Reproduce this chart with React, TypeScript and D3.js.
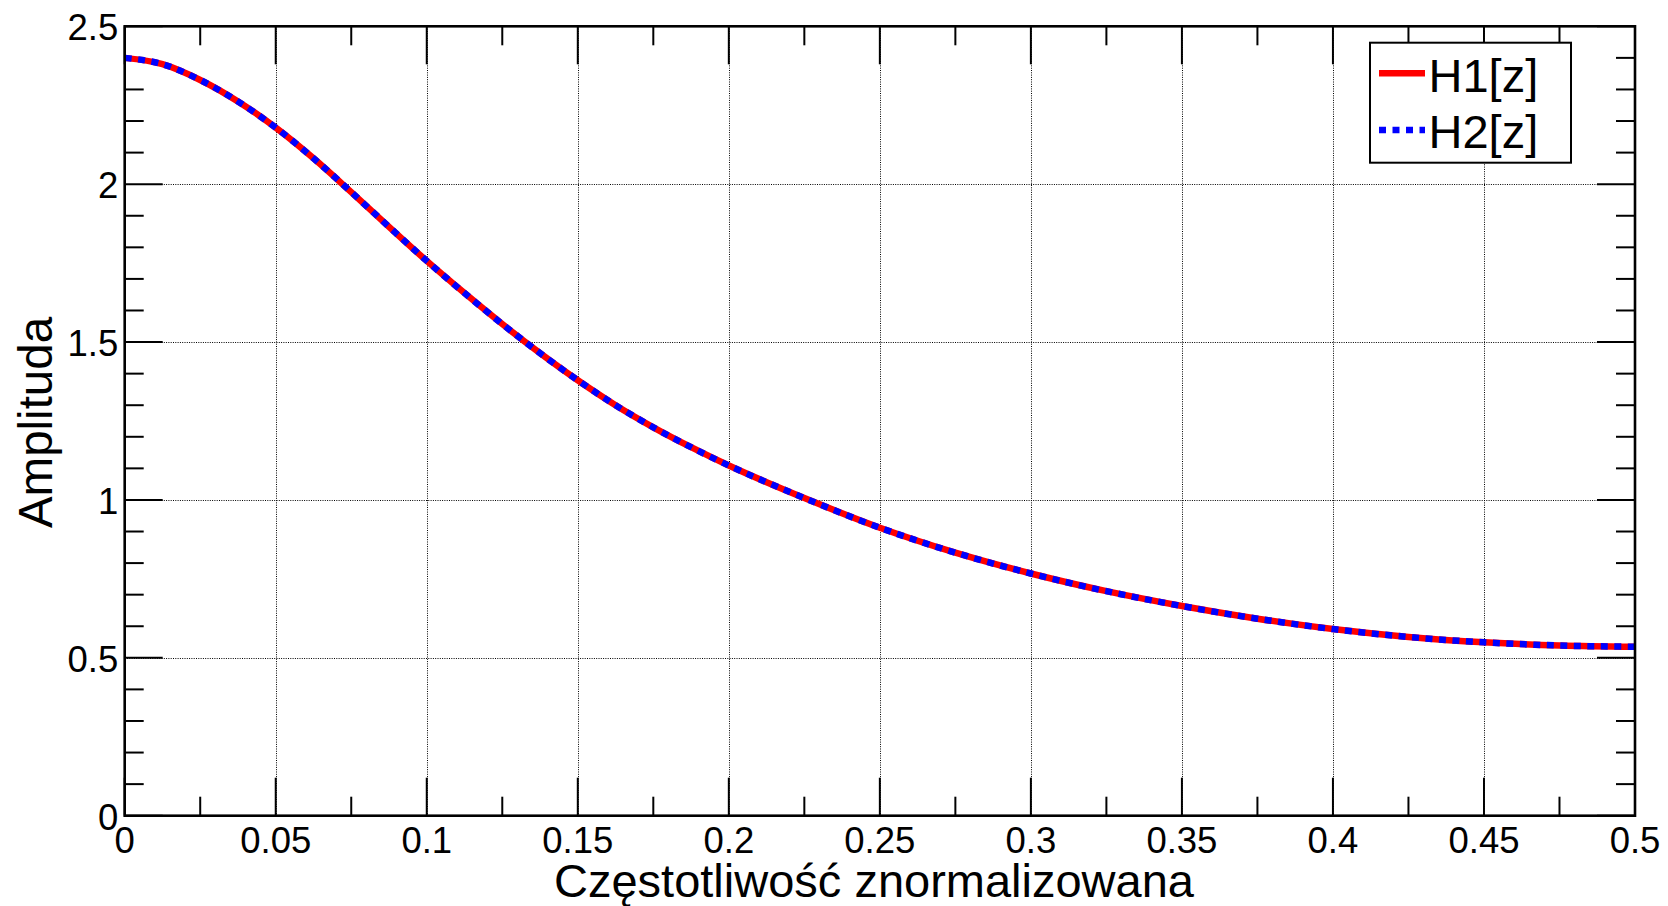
import React from "react";
import * as d3 from "d3";

// Normalised frequency samples and the magnitude responses of both filters
const freq = [
  0, 0.0125, 0.025, 0.0375, 0.05, 0.0625, 0.075, 0.0875, 0.1, 0.1125, 0.125,
  0.1375, 0.15, 0.1625, 0.175, 0.1875, 0.2, 0.2125, 0.225, 0.25, 0.275, 0.3,
  0.325, 0.35, 0.375, 0.4, 0.425, 0.45, 0.475, 0.5,
];
const h1 = [
  2.4, 2.38, 2.33, 2.262, 2.179, 2.082, 1.975, 1.865, 1.757, 1.655, 1.557,
  1.465, 1.379, 1.3, 1.23, 1.167, 1.109, 1.056, 1.006, 0.912, 0.833, 0.767,
  0.711, 0.664, 0.624, 0.591, 0.566, 0.549, 0.539, 0.535,
];
const h2 = [
  2.4, 2.38, 2.33, 2.262, 2.179, 2.082, 1.975, 1.865, 1.757, 1.655, 1.557,
  1.465, 1.379, 1.3, 1.23, 1.167, 1.109, 1.056, 1.006, 0.912, 0.833, 0.767,
  0.711, 0.664, 0.624, 0.591, 0.566, 0.549, 0.539, 0.535,
];

const xMajor = [0, 0.05, 0.1, 0.15, 0.2, 0.25, 0.3, 0.35, 0.4, 0.45, 0.5];
const xMajorLabels = ["0", "0.05", "0.1", "0.15", "0.2", "0.25", "0.3", "0.35", "0.4", "0.45", "0.5"];
const yMajor = [0, 0.5, 1, 1.5, 2, 2.5];
const yMajorLabels = ["0", "0.5", "1", "1.5", "2", "2.5"];
const xMinor = [0.025, 0.075, 0.125, 0.175, 0.225, 0.275, 0.325, 0.375, 0.425, 0.475];
const yMinor = [
  0.1, 0.2, 0.3, 0.4, 0.6, 0.7, 0.8, 0.9, 1.1, 1.2, 1.3, 1.4, 1.6, 1.7, 1.8,
  1.9, 2.1, 2.2, 2.3, 2.4,
];

const seriesNames = ["H1[z]", "H2[z]"];
const xTitle = "Częstotliwość znormalizowana";
const yTitle = "Amplituda";

const W = 1668;
const H = 906;
const plot = { left: 124.7, right: 1635, top: 26.3, bottom: 815.7 };
const FONT = "'Liberation Sans', Arial, Helvetica, sans-serif";

// snap thin 1px lines to the pixel grid so the dots stay crisp
const crisp = (v: number) => Math.round(v) + 0.5;

export default function App() {
  const x = d3.scaleLinear().domain([0, 0.5]).range([plot.left, plot.right]);
  const y = d3.scaleLinear().domain([0, 2.5]).range([plot.bottom, plot.top]);

  const line = d3
    .line<number>()
    .x((_, i) => x(freq[i]))
    .y((d) => y(d))
    .curve(d3.curveMonotoneX);

  const majorLen = 38;
  const minorLen = 19;
  const tickStroke = 2;

  return (
    <svg
      width={W}
      height={H}
      viewBox={`0 0 ${W} ${H}`}
      style={{ position: "absolute", left: 0, top: 0, display: "block", background: "#fff" }}
    >
      <rect x={0} y={0} width={W} height={H} fill="#fff" />

      {/* dotted grid */}
      <g stroke="#000" strokeWidth={1} strokeDasharray="1 1.3">
        {xMajor.slice(1, -1).map((v) => (
          <line key={`gx${v}`} x1={crisp(x(v))} x2={crisp(x(v))} y1={plot.top} y2={plot.bottom} />
        ))}
        {yMajor.slice(1, -1).map((v) => (
          <line key={`gy${v}`} x1={plot.left} x2={plot.right} y1={crisp(y(v))} y2={crisp(y(v))} />
        ))}
      </g>

      {/* ticks on all four sides, pointing inward */}
      <g stroke="#000" strokeWidth={tickStroke}>
        {xMajor.map((v) => (
          <g key={`tx${v}`}>
            <line x1={x(v)} x2={x(v)} y1={plot.bottom} y2={plot.bottom - majorLen} />
            <line x1={x(v)} x2={x(v)} y1={plot.top} y2={plot.top + majorLen} />
          </g>
        ))}
        {xMinor.map((v) => (
          <g key={`tmx${v}`}>
            <line x1={x(v)} x2={x(v)} y1={plot.bottom} y2={plot.bottom - minorLen} />
            <line x1={x(v)} x2={x(v)} y1={plot.top} y2={plot.top + minorLen} />
          </g>
        ))}
        {yMajor.map((v) => (
          <g key={`ty${v}`}>
            <line x1={plot.left} x2={plot.left + majorLen} y1={y(v)} y2={y(v)} />
            <line x1={plot.right} x2={plot.right - majorLen} y1={y(v)} y2={y(v)} />
          </g>
        ))}
        {yMinor.map((v) => (
          <g key={`tmy${v}`}>
            <line x1={plot.left} x2={plot.left + minorLen} y1={y(v)} y2={y(v)} />
            <line x1={plot.right} x2={plot.right - minorLen} y1={y(v)} y2={y(v)} />
          </g>
        ))}
      </g>

      {/* curves: solid red underneath, dotted blue on top */}
      <path d={line(h1) || ""} fill="none" stroke="#ff0000" strokeWidth={6.5} />
      <path
        d={line(h2) || ""}
        fill="none"
        stroke="#0000ff"
        strokeWidth={6.5}
        strokeDasharray="7 6.5"
      />

      {/* axes box */}
      <rect
        x={plot.left}
        y={plot.top}
        width={plot.right - plot.left}
        height={plot.bottom - plot.top}
        fill="none"
        stroke="#000"
        strokeWidth={2.6}
      />

      {/* tick labels */}
      <g fontFamily={FONT} fontSize={36.5} fill="#000">
        {xMajor.map((v, i) => (
          <text key={`lx${v}`} x={x(v)} y={plot.bottom + 37.3} textAnchor="middle">
            {xMajorLabels[i]}
          </text>
        ))}
        {yMajor.map((v, i) => (
          <text key={`ly${v}`} x={plot.left - 6.5} y={y(v) + 13.8} textAnchor="end">
            {yMajorLabels[i]}
          </text>
        ))}
      </g>

      {/* axis titles */}
      <text
        x={874}
        y={896.5}
        textAnchor="middle"
        fontFamily={FONT}
        fontSize={47}
        fill="#000"
      >
        {xTitle}
      </text>
      <text
        transform={`translate(51.5, ${(plot.top + plot.bottom) / 2 + 1.5}) rotate(-90)`}
        textAnchor="middle"
        fontFamily={FONT}
        fontSize={47.5}
        fill="#000"
      >
        {yTitle}
      </text>

      {/* legend */}
      <g>
        <rect x={1370} y={42.7} width={201} height={120} fill="#fff" stroke="#000" strokeWidth={2} />
        <line x1={1379} x2={1425} y1={73.3} y2={73.3} stroke="#ff0000" strokeWidth={6.5} />
        <line
          x1={1379}
          x2={1425}
          y1={130}
          y2={130}
          stroke="#0000ff"
          strokeWidth={6.5}
          strokeDasharray="7 6.5"
        />
        <text x={1428.5} y={91.7} fontFamily={FONT} fontSize={47} fill="#000">
          {seriesNames[0]}
        </text>
        <text x={1428.5} y={148.3} fontFamily={FONT} fontSize={47} fill="#000">
          {seriesNames[1]}
        </text>
      </g>
    </svg>
  );
}
